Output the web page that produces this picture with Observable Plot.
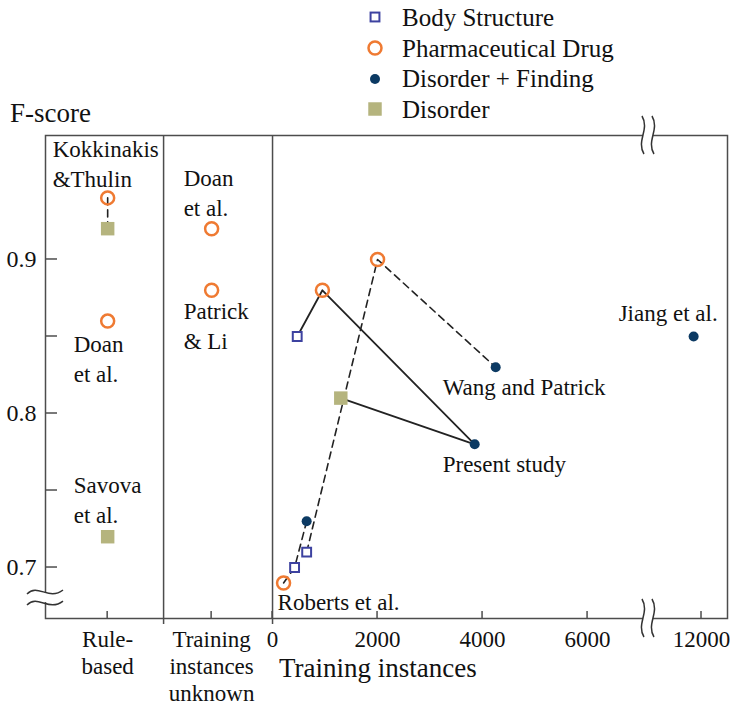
<!DOCTYPE html>
<html>
<head>
<meta charset="utf-8">
<script src="https://cdn.jsdelivr.net/npm/d3@7"></script>
<script src="https://cdn.jsdelivr.net/npm/@observablehq/plot@0.6"></script>
<style>
  body { margin: 0; background: #fff; }
  #wrap { position: relative; width: 740px; height: 706px; font-family: "Liberation Serif", "Times New Roman", serif; color: #111; }
  #legend { position: absolute; left: 362px; top: 2px; }
  .row { display: flex; align-items: center; height: 30.7px; font-size: 25px; line-height: 1; }
  .row svg { width: 26px; height: 26px; margin-right: 14px; flex: none; }
  #ylab { position: absolute; left: 10px; top: 100px; font-size: 27px; line-height: 1; }
  #xlab { position: absolute; left: 279px; top: 655px; font-size: 27px; line-height: 1; }
</style>
</head>
<body>
<div id="wrap">
  <div id="chart"></div>
  <div id="legend"></div>
  <div id="ylab">F-score</div>
  <div id="xlab">Training instances</div>
</div>
<script>
// ---------------- data ----------------
const typeNames = ["Body Structure", "Pharmaceutical Drug", "Disorder + Finding", "Disorder"];

const categories = ["Rule-based", "Training instances unknown"];
const categoryLabels = ["Rule-\nbased", "Training\ninstances\nunknown"];
const xTicks = [0, 2000, 4000, 6000, 12000];
const yTicks = [0.7, 0.8, 0.9];
const yMinorTicks = [0.75, 0.85];

const ptStudy = [
  "Kokkinakis & Thulin", "Kokkinakis & Thulin", "Doan et al. (rule-based)", "Savova et al.",
  "Doan et al.", "Patrick & Li",
  "Roberts et al.", "Roberts et al.", "Roberts et al.",
  "Wang and Patrick", "Wang and Patrick", "Wang and Patrick",
  "Present study", "Present study", "Present study", "Present study",
  "Jiang et al."
];
const ptGroup = [
  "Rule-based", "Rule-based", "Rule-based", "Rule-based",
  "Training instances unknown", "Training instances unknown",
  null, null, null, null, null, null, null, null, null, null, null
];
const ptInstances = [null, null, null, null, null, null,
  210, 420, 650,
  650, 2000, 4250,
  470, 950, 3850, 1300,
  11850];
const ptFscore = [0.94, 0.92, 0.86, 0.72, 0.92, 0.88,
  0.69, 0.70, 0.73,
  0.71, 0.90, 0.83,
  0.85, 0.88, 0.78, 0.81,
  0.85];
const ptType = [
  "Pharmaceutical Drug", "Disorder", "Pharmaceutical Drug", "Disorder",
  "Pharmaceutical Drug", "Pharmaceutical Drug",
  "Pharmaceutical Drug", "Body Structure", "Disorder + Finding",
  "Body Structure", "Pharmaceutical Drug", "Disorder + Finding",
  "Body Structure", "Pharmaceutical Drug", "Disorder + Finding", "Disorder",
  "Disorder + Finding"
];

const dashedStudies = ["Kokkinakis & Thulin", "Roberts et al.", "Wang and Patrick"];
const solidStudies = ["Present study"];

const labelText = ["Kokkinakis\n&Thulin", "Doan\net al.", "Savova\net al.", "Doan\net al.", "Patrick\n& Li",
  "Roberts et al.", "Wang and Patrick", "Present study", "Jiang et al."];
const labelPoint = [0, 2, 3, 4, 5, 6, 11, 14, 16];

// ---------------- layout / style ----------------
const catPos = {"Rule-based": -3140, "Training instances unknown": -1160};
const dividers = [-2075, 0];
const xBreak = [7160, 10990];           // axis is cut between these training-instance counts
const brk = v => (v >= xBreak[1] ? v - (xBreak[1] - xBreak[0]) : v);
const xDomain = [-4324, brk(12495)];
const yDomain = [0.6669, 0.9805];
const yBreak = [0.6838, 0.6766];
const frameColor = "#4d4d4d";
const colors = {
  "Body Structure": "#3d42a0",
  "Pharmaceutical Drug": "#ef7a32",
  "Disorder + Finding": "#0c3a63",
  "Disorder": "#b5b47e"
};
const labelStyle = [
  {dx: -55, dy: -11, anchor: "start"},
  {dx: -34, dy: 61, anchor: "start"},
  {dx: -34, dy: -14, anchor: "start"},
  {dx: -28, dy: -13, anchor: "start"},
  {dx: -28, dy: 59, anchor: "start"},
  {dx: -6, dy: 27, anchor: "start"},
  {dx: -53, dy: 28, anchor: "start"},
  {dx: -32, dy: 28, anchor: "start"},
  {dx: 24, dy: -15, anchor: "end"}
];

// ---------------- build table ----------------
const points = ptStudy.map((s, i) => ({
  study: s,
  type: ptType[i],
  pos: ptGroup[i] ? catPos[ptGroup[i]] : brk(ptInstances[i]),
  f: ptFscore[i]
}));
const labels = labelText.map((t, i) => ({text: t, ...points[labelPoint[i]], ...labelStyle[i]}));

const tickPositions = [...categories.map(c => catPos[c]), ...xTicks.map(brk)];
const tickLabelOf = new Map([
  ...categories.map((c, i) => [catPos[c], categoryLabels[i]]),
  ...xTicks.map(t => [brk(t), String(t)])
]);

function symbolOpts(type) {
  if (type === "Body Structure") return {symbol: "square", r: 5, stroke: colors[type], strokeWidth: 2, fill: "white"};
  if (type === "Pharmaceutical Drug") return {symbol: "circle", r: 6.5, stroke: colors[type], strokeWidth: 2.5, fill: "none"};
  if (type === "Disorder + Finding") return {symbol: "circle", r: 5, fill: colors[type]};
  return {symbol: "square", r: 7.6, fill: colors[type]};
}

function decorations(index, scales, values, dims) {
  const {x, y} = scales;
  const bottom = dims.height - dims.marginBottom;
  const top = dims.marginTop;
  const left = dims.marginLeft;
  const g = d3.create("svg:g").attr("fill", "none").attr("stroke", frameColor).attr("stroke-width", 1.5);
  for (const v of tickPositions) {
    g.append("line").attr("x1", x(v)).attr("x2", x(v)).attr("y1", bottom).attr("y2", bottom - 7);
  }
  for (const v of [...yTicks, ...yMinorTicks]) {
    g.append("line").attr("x1", left).attr("x2", left + 12).attr("y1", y(v)).attr("y2", y(v));
  }
  // y-axis break
  const yb1 = y(yBreak[0]), yb2 = y(yBreak[1]);
  g.append("rect").attr("x", left - 3).attr("y", yb1 + 1).attr("width", 6).attr("height", yb2 - yb1 - 2)
    .attr("fill", "white").attr("stroke", "none");
  for (const yy of [yb1, yb2]) {
    const x0 = left - 18, L = 36;
    g.append("path").attr("stroke", "#333")
      .attr("d", `M${x0},${yy + 2} C${x0 + L * 0.3},${yy - 9} ${x0 + L * 0.6},${yy + 9} ${x0 + L},${yy - 2}`);
  }
  // x-axis break (top and bottom)
  const xb = x(xBreak[0]);
  for (const edge of [top, bottom]) {
    g.append("rect").attr("x", xb - 5).attr("y", edge - 3).attr("width", 10).attr("height", 6)
      .attr("fill", "white").attr("stroke", "none");
    for (const xx of [xb - 5, xb + 5]) {
      const y0 = edge - 19, H = 38;
      g.append("path").attr("stroke", "#333")
        .attr("d", `M${xx - 1},${y0} C${xx + 7},${y0 + H * 0.35} ${xx - 7},${y0 + H * 0.65} ${xx + 1},${y0 + H}`);
    }
  }
  return g.node();
}

const chart = Plot.plot({
  width: 740,
  height: 706,
  marginTop: 135,
  marginBottom: 88,
  marginLeft: 45,
  marginRight: 13,
  style: {fontFamily: "Liberation Serif, Times New Roman, serif", background: "white", color: "#111"},
  x: {domain: xDomain, axis: null},
  y: {domain: yDomain, axis: null},
  marks: [
    Plot.ruleX(dividers, {stroke: frameColor, strokeWidth: 1.5, insetBottom: -6}),
    Plot.line(points.filter(d => dashedStudies.includes(d.study)), {x: "pos", y: "f", z: "study", stroke: "#222", strokeWidth: 1.6, strokeDasharray: "7,5"}),
    Plot.line(points.filter(d => solidStudies.includes(d.study)), {x: "pos", y: "f", z: "study", stroke: "#222", strokeWidth: 1.8}),
    ...typeNames.map(t => Plot.dot(points.filter(d => d.type === t), {x: "pos", y: "f", ...symbolOpts(t)})),
    ...labels.map(d => Plot.text([d], {
      x: "pos", y: "f", text: "text", dx: d.dx, dy: d.dy,
      textAnchor: d.anchor, lineAnchor: "bottom", lineHeight: 1.3, fontSize: 23, fill: "#111"
    })),
    // y tick labels
    Plot.text(yTicks, {y: d => d, text: d => d.toFixed(1), frameAnchor: "left", dx: -9, textAnchor: "end", fontSize: 24, fill: "#111"}),
    // x tick labels
    Plot.text(tickPositions, {x: d => d, text: d => tickLabelOf.get(d), frameAnchor: "bottom", dy: 9, lineAnchor: "top", lineHeight: 1.18, fontSize: 23, fill: "#111"}),
    Plot.frame({stroke: frameColor, strokeWidth: 1.5}),
    decorations
  ]
});
document.getElementById("chart").appendChild(chart);

// ---------------- legend ----------------
const legend = d3.select("#legend");
for (const t of typeNames) {
  const row = legend.append("div").attr("class", "row");
  const svg = row.append("svg").attr("viewBox", "-13 -13 26 26");
  const o = symbolOpts(t);
  if (o.symbol === "square") {
    const s = o.r * Math.sqrt(Math.PI);
    svg.append("rect").attr("x", -s / 2).attr("y", -s / 2).attr("width", s).attr("height", s)
      .attr("fill", o.fill).attr("stroke", o.stroke || "none").attr("stroke-width", o.strokeWidth || 0);
  } else {
    svg.append("circle").attr("r", o.r).attr("fill", o.fill).attr("stroke", o.stroke || "none").attr("stroke-width", o.strokeWidth || 0);
  }
  row.append("span").text(t);
}
</script>
</body>
</html>
